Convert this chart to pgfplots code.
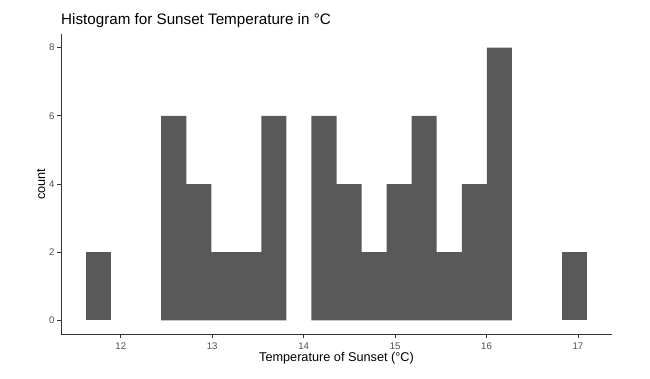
\documentclass[border=0pt]{standalone}
\usepackage{pgfplots}
\pgfplotsset{compat=1.18}
\usepackage{fontspec}
\setmainfont{Liberation Sans}
\definecolor{barfill}{HTML}{595959}
\definecolor{axgray}{HTML}{333333}
\definecolor{ticklab}{HTML}{4D4D4D}
\begin{document}
\begin{tikzpicture}
\begin{axis}[
  at={(0,0)}, anchor=south west,
  scale only axis, width=551pt, height=300pt,
  xmin=11.346, xmax=17.372, ymin=-0.4, ymax=8.4,
  axis lines*=left,
  axis line style={axgray, line width=0.8pt},
  tick style={axgray, line width=0.8pt},
  tick align=outside, major tick length=4pt,
  xtick={12,13,14,15,16,17}, ytick={0,2,4,6,8},
  tick label style={font=\fontsize{9.6}{11}\selectfont, text=ticklab},
  xticklabel style={yshift=-1.5pt},
  yticklabel style={xshift=1pt},
  /pgf/number format/assume math mode=true,
  every axis title shift=0pt,
  title={Histogram for Sunset Temperature in °C},
  title style={at={(axis description cs:0,1.0333)}, anchor=base west, font=\fontsize{15.2}{18}\selectfont, inner sep=0pt},
  xlabel={Temperature of Sunset (°C)},
  xlabel style={at={(axis description cs:0.5,-0.0933)}, anchor=base, font=\fontsize{12.7}{15}\selectfont, inner sep=0pt},
  ylabel={count},
  ylabel style={at={(axis description cs:-0.029,0.5)}, anchor=base, font=\fontsize{12.7}{15}\selectfont, inner sep=0pt},
]
\addplot[ybar interval, fill=barfill, draw=none] coordinates {
(11.620,2) (11.894,2)
};
\addplot[ybar interval, fill=barfill, draw=none] coordinates {
(12.442,6) (12.716,4) (12.990,2) (13.263,2) (13.537,6) (13.811,6)
};
\addplot[ybar interval, fill=barfill, draw=none] coordinates {
(14.085,6) (14.359,4) (14.633,2) (14.907,4) (15.181,6) (15.455,2)
(15.729,4) (16.003,8) (16.276,8)
};
\addplot[ybar interval, fill=barfill, draw=none] coordinates {
(16.824,2) (17.098,2)
};
\end{axis}
\pgfresetboundingbox
\path[use as bounding box] (-61pt,-44pt) rectangle (589pt,334pt);
\end{tikzpicture}
\end{document}
